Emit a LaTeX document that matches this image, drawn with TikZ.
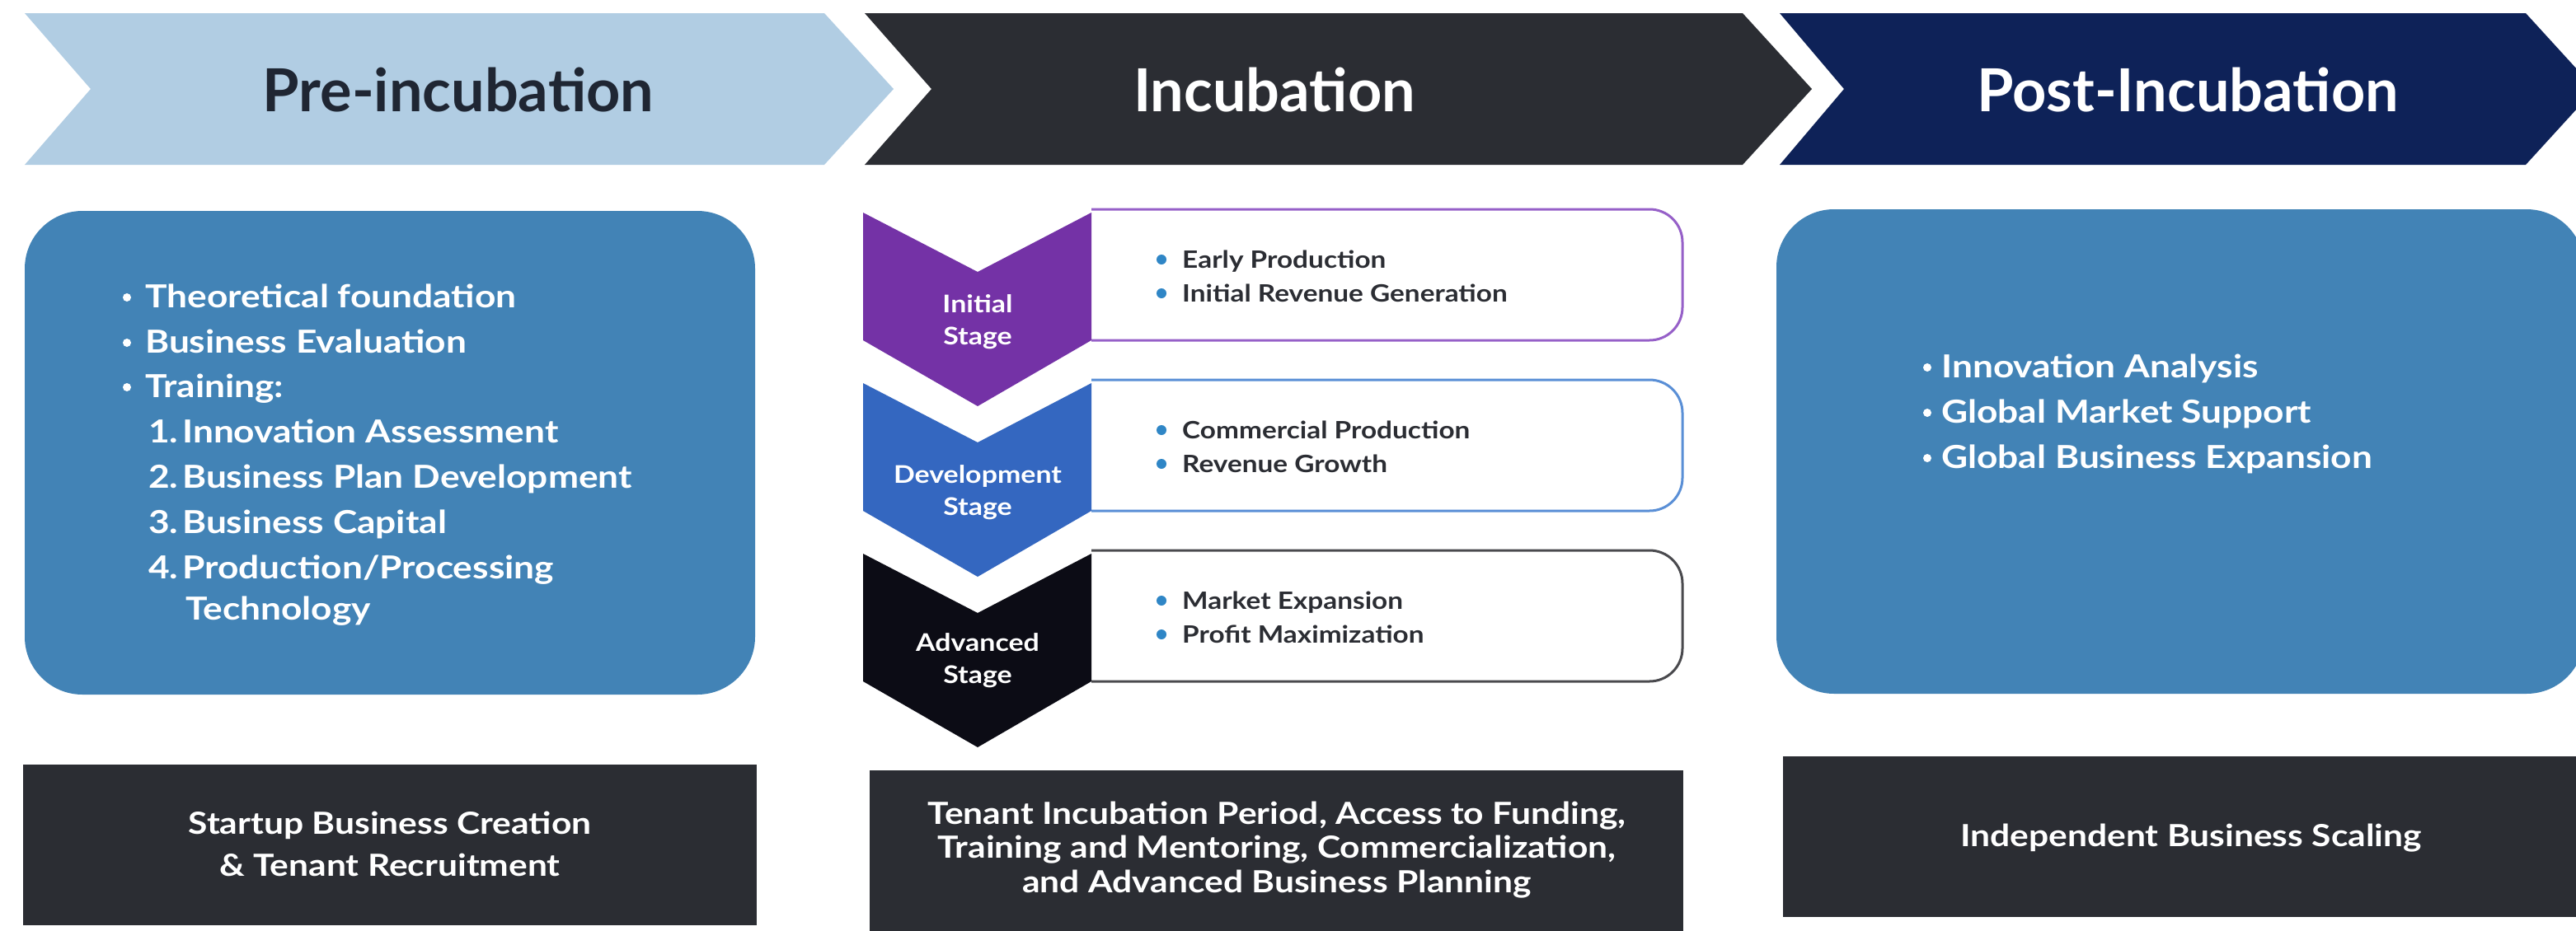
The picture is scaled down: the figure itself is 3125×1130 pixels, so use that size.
\documentclass[tikz,border=0pt]{standalone}
\usepackage{fontspec}
\setmainfont{Lato}
\newfontfamily\widefont{Lato}[FakeStretch=1.15]
\definecolor{chevA}{HTML}{B1CDE3}
\definecolor{chevB}{HTML}{2B2D33}
\definecolor{chevC}{HTML}{0E2258}
\definecolor{hdrdark}{HTML}{1F2633}
\definecolor{boxblue}{HTML}{4283B6}
\definecolor{stgA}{HTML}{7432A6}
\definecolor{stgB}{HTML}{3467C0}
\definecolor{stgC}{HTML}{0C0C15}
\definecolor{brdA}{HTML}{9660C8}
\definecolor{brdB}{HTML}{5A8FD6}
\definecolor{brdC}{HTML}{4A4A4E}
\definecolor{txtdark}{HTML}{2B2D33}
\definecolor{dotblue}{HTML}{2F86C6}
\begin{document}
\begin{tikzpicture}[x=1pt,y=-1pt,
  hdr/.style={font=\fontsize{72}{80}\selectfont\bfseries, anchor=base, inner sep=0pt},
  body/.style={font=\widefont\fontsize{38.5}{46}\selectfont\bfseries, text=white, anchor=base west, inner sep=0pt},
  stagelbl/.style={font=\widefont\fontsize{29.5}{35}\selectfont\bfseries, text=white, anchor=base, inner sep=0pt},
  itemtxt/.style={font=\widefont\fontsize{29}{34}\selectfont\bfseries, text=txtdark, anchor=base west, inner sep=0pt},
  bottxt/.style={font=\widefont\fontsize{37}{42}\selectfont\bfseries, text=white, anchor=base, inner sep=0pt},
  itemdot/.style={circle, fill=dotblue, inner sep=0pt, minimum size=12pt},
  wdot/.style={circle, fill=white, inner sep=0pt, minimum size=10pt},
  stagebox/.style={line width=3pt, rounded corners=40pt, fill=white}
]
\useasboundingbox (0,0) rectangle (3125,1130);
\fill[white] (0,0) rectangle (3125,1130);

% ---------- header chevrons ----------
\fill[chevA] (30,16) -- (1000,16) -- (1084,108) -- (1000,200) -- (30,200) -- (110,108) -- cycle;
\fill[chevB] (1049,16) -- (2114,16) -- (2198,108) -- (2114,200) -- (1049,200) -- (1130,108) -- cycle;
\fill[chevC] (2159,16) -- (3064,16) -- (3148,108) -- (3064,200) -- (2159,200) -- (2237,108) -- cycle;
\node[hdr, text=hdrdark] (h1) at (556,135) {Pre-incubation};
\node[hdr, text=white] (h2) at (1546,135) {Incubation};
\node[hdr, text=white] (h3) at (2654,135) {Post-Incubation};

% ---------- left box ----------
\fill[boxblue, rounded corners=70pt] (30,256) rectangle (916,843);
\node[wdot] (l1b) at (154,361) {};
\node[body] (l1) at (176,373) {Theoretical foundation};
\node[wdot] (l2b) at (154,416) {};
\node[body] (l2) at (176,428) {Business Evaluation};
\node[wdot] (l3b) at (154,470) {};
\node[body] (l3) at (176,482) {Training:};
\node[body] (n1) at (180,537) {1.};
\node[body] (l4) at (221,537) {Innovation Assessment};
\node[body] (n2) at (180,592) {2.};
\node[body] (l5) at (221,592) {Business Plan Development};
\node[body] (n3) at (180,647) {3.};
\node[body] (l6) at (221,647) {Business Capital};
\node[body] (n4) at (180,702) {4.};
\node[body] (l7) at (221,702) {Production/Processing};
\node[body] (l8) at (225,752) {Technology};

% ---------- middle stages ----------
% Initial (top 258)
\draw[stagebox, draw=brdA] (1324,254) -- (2041,254) -- (2041,413) -- (1324,413);
\fill[stgA] (1047,258) -- (1186,330) -- (1324,258) -- (1324,413) -- (1186,493) -- (1047,413) -- cycle;
\node[stagelbl] (s1a) at (1186,379) {Initial};
\node[stagelbl] (s1b) at (1186,418) {Stage};
\node[itemdot] (d11) at (1409,315) {};
\node[itemtxt] (t11) at (1434,325) {Early Production};
\node[itemdot] (d12) at (1409,356) {};
\node[itemtxt] (t12) at (1434,366) {Initial Revenue Generation};

% Development (top 465)
\draw[stagebox, draw=brdB] (1324,461) -- (2041,461) -- (2041,620) -- (1324,620);
\fill[stgB] (1047,465) -- (1186,537) -- (1324,465) -- (1324,620) -- (1186,700) -- (1047,620) -- cycle;
\node[stagelbl] (s2a) at (1186,586) {Development};
\node[stagelbl] (s2b) at (1186,625) {Stage};
\node[itemdot] (d21) at (1409,522) {};
\node[itemtxt] (t21) at (1434,532) {Commercial Production};
\node[itemdot] (d22) at (1409,563) {};
\node[itemtxt] (t22) at (1434,573) {Revenue Growth};

% Advanced (top 672)
\draw[stagebox, draw=brdC] (1324,668) -- (2041,668) -- (2041,827) -- (1324,827);
\fill[stgC] (1047,672) -- (1186,744) -- (1324,672) -- (1324,827) -- (1186,907) -- (1047,827) -- cycle;
\node[stagelbl] (s3a) at (1186,790) {Advanced};
\node[stagelbl] (s3b) at (1186,829) {Stage};
\node[itemdot] (d31) at (1409,729) {};
\node[itemtxt] (t31) at (1434,739) {Market Expansion};
\node[itemdot] (d32) at (1409,770) {};
\node[itemtxt] (t32) at (1434,780) {Profit Maximization};

% ---------- right box ----------
\fill[boxblue, rounded corners=70pt] (2155,254) rectangle (3135,842);
\node[wdot] (r1b) at (2338,446) {};
\node[body] (r1) at (2355,458) {Innovation Analysis};
\node[wdot] (r2b) at (2338,501) {};
\node[body] (r2) at (2355,513) {Global Market Support};
\node[wdot] (r3b) at (2338,556) {};
\node[body] (r3) at (2355,568) {Global Business Expansion};

% ---------- bottom boxes ----------
\fill[chevB] (28,928) rectangle (918,1123);
\node[bottxt] (b1a) at (473,1012) {Startup Business Creation};
\node[bottxt] (b1b) at (473,1063) {\& Tenant Recruitment};

\fill[chevB] (1055,935) rectangle (2042,1135);
\node[bottxt] (b2a) at (1549,1000) {Tenant Incubation Period, Access to Funding,};
\node[bottxt] (b2b) at (1549,1041) {Training and Mentoring, Commercialization,};
\node[bottxt] (b2c) at (1549,1083) {and Advanced Business Planning};

\fill[chevB] (2163,918) rectangle (3140,1113);
\node[bottxt] (b3) at (2658,1027) {Independent Business Scaling};
\end{tikzpicture}
\end{document}
